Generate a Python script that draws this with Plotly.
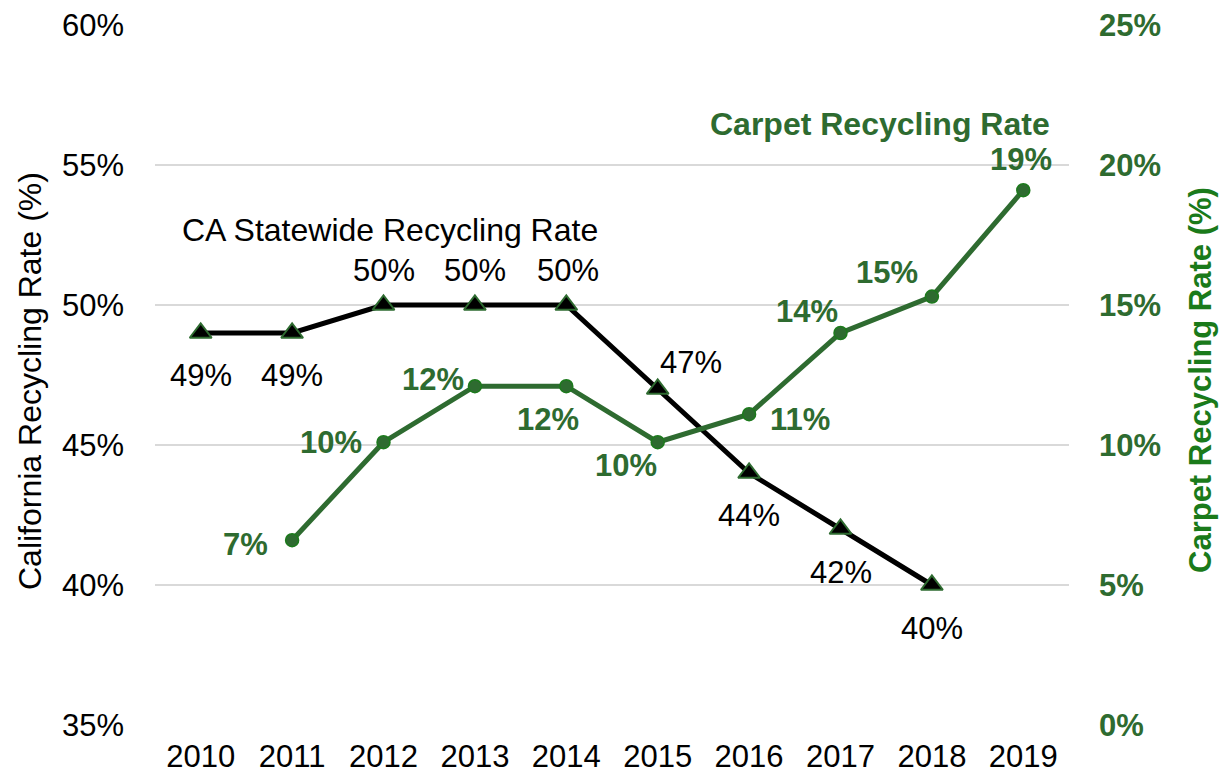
import plotly.graph_objects as go

years = ["2010", "2011", "2012", "2013", "2014", "2015", "2016", "2017", "2018", "2019"]
ca_years = ["2010", "2011", "2012", "2013", "2014", "2015", "2016", "2017", "2018"]
ca_rate = [49, 49, 50, 50, 50, 47, 44, 42, 40]
carpet_years = ["2011", "2012", "2013", "2014", "2015", "2016", "2017", "2018", "2019"]
carpet_rate = [6.6, 10.1, 12.1, 12.1, 10.1, 11.1, 14.0, 15.3, 19.1]

left_ticks = [35, 40, 45, 50, 55, 60]
right_ticks = [0, 5, 10, 15, 20, 25]

GREEN = "#2e6b30"
GREEN_BRIGHT = "#1a7a1a"
FONT = "Liberation Sans, Arial, sans-serif"
FS = 31
FT = 32

fig = go.Figure()

fig.add_trace(go.Scatter(
    x=carpet_years, y=carpet_rate, yaxis="y2", mode="lines+markers",
    line=dict(color=GREEN, width=5),
    marker=dict(symbol="circle", size=13, color=GREEN, line=dict(color="#1c7a1c", width=1.5)),
    showlegend=False, hoverinfo="skip"))

fig.add_trace(go.Scatter(
    x=ca_years, y=ca_rate, yaxis="y", mode="lines+markers",
    line=dict(color="black", width=5),
    marker=dict(symbol="triangle-up", size=19, color="black", line=dict(color=GREEN, width=2)),
    showlegend=False, hoverinfo="skip"))

# label offsets (pixels) for data labels
ca_shift = [(0, -42), (0, -42), (0, 35), (0, 35), (2, 35), (33, 27), (0, -42), (0, -43), (0, -43)]
cp_shift = [(-47, -4), (-53, 0), (-42, 7), (-18, -33), (-32, -23), (51, -5), (-34, 22), (-45, 24), (-2, 31)]

annotations = []
for x, y, (dx, dy) in zip(ca_years, ca_rate, ca_shift):
    annotations.append(dict(x=years.index(x), y=y, xref="x", yref="y", text=f"{round(y)}%",
                            showarrow=False, xshift=dx, yshift=dy, xanchor="center", yanchor="middle",
                            font=dict(family=FONT, size=FS, color="black")))
for x, y, (dx, dy) in zip(carpet_years, carpet_rate, cp_shift):
    annotations.append(dict(x=years.index(x), y=y, xref="x", yref="y2", text=f"<b>{round(y)}%</b>",
                            showarrow=False, xshift=dx, yshift=dy, xanchor="center", yanchor="middle",
                            font=dict(family=FONT, size=FS, color=GREEN)))

annotations.append(dict(xref="paper", yref="paper", x=(880 - 155) / 914, y=(725 - 124) / 700,
                        xanchor="center", yanchor="middle",
                        text="<b>Carpet Recycling Rate</b>", showarrow=False,
                        font=dict(family=FONT, size=FT, color=GREEN)))
annotations.append(dict(xref="paper", yref="paper", x=(390 - 155) / 914, y=(725 - 230) / 700,
                        xanchor="center", yanchor="middle",
                        text="CA Statewide Recycling Rate", showarrow=False,
                        font=dict(family=FONT, size=FT, color="black")))
annotations.append(dict(xref="paper", yref="paper", x=(30 - 155) / 914, y=(725 - 381) / 700,
                        xanchor="center", yanchor="middle",
                        text="California Recycling Rate (%)", showarrow=False, textangle=-90,
                        font=dict(family=FONT, size=FT, color="black")))
annotations.append(dict(xref="paper", yref="paper", x=(1200 - 155) / 914, y=(725 - 380) / 700,
                        xanchor="center", yanchor="middle",
                        text="<b>Carpet Recycling Rate (%)</b>", showarrow=False, textangle=-90,
                        font=dict(family=FONT, size=FT - 1, color=GREEN_BRIGHT)))

fig.update_layout(
    width=1225, height=777,
    margin=dict(l=155, r=156, t=25, b=52, autoexpand=False),
    paper_bgcolor="white", plot_bgcolor="white",
    font=dict(family=FONT, size=FS, color="black"),
    xaxis=dict(type="category", categoryorder="array", categoryarray=years,
               range=[-0.5, 9.5], showgrid=False, showline=False, zeroline=False, automargin=False,
               ticks="", tickfont=dict(size=FS, color="black"), ticklabelstandoff=10),
    yaxis=dict(range=[35, 60], tickvals=left_ticks, ticktext=[f"{v}%" for v in left_ticks],
               showgrid=True, gridcolor="#d9d9d9", gridwidth=2, zeroline=False, showline=False,
               automargin=False,
               tickfont=dict(size=FS, color="black"), ticklabelstandoff=30),
    yaxis2=dict(range=[0, 25], overlaying="y", side="right",
                tickvals=right_ticks, ticktext=[f"<b>{v}%</b>" for v in right_ticks],
                showgrid=False, zeroline=False, showline=False, automargin=False,
                tickfont=dict(size=FS, color=GREEN), ticklabelstandoff=29),
    annotations=annotations,
)

fig.write_html("out.html")
